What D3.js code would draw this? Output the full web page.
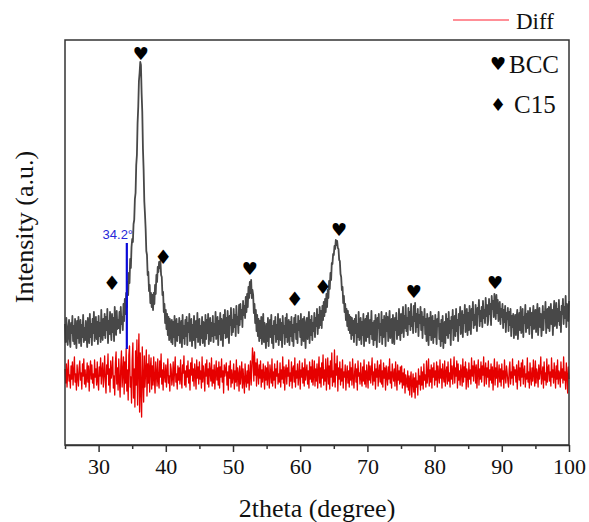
<!DOCTYPE html>
<html>
<head>
<meta charset="utf-8">
<script src="https://cdn.jsdelivr.net/npm/d3@7"></script>
<style>
  body { margin: 0; background: #fff; }
  text { font-family: "Liberation Serif", "Times New Roman", serif; }
</style>
</head>
<body>
<div id="chart-area"></div>
<script>
// XRD pattern, 2theta 25..100 with 0.1 degree step (one row = 1 degree)
var start = 25, step = 0.1;

var xrd = [
  121,103,127,109,100,118,125,106,98,122,
  112,129,104,119,101,126,110,97,124,107,
  128,102,116,125,99,120,108,130,103,117,
  105,124,111,98,127,115,102,131,108,121,
  100,126,112,133,104,119,128,106,123,101,
  129,109,122,103,135,114,105,126,110,131,
  107,128,115,136,102,124,111,133,118,105,
  131,113,127,104,138,119,110,134,116,125,
  117,133,112,138,121,128,115,141,124,146,
  131,152,138,163,150,172,162,186,177,198,
  206,203,221,225,246,252,280,290,322,338,
  364,372,383,380,352,333,296,275,244,231,
  216,194,190,170,173,154,160,142,152,138,
  150,135,152,141,160,151,170,163,178,173,
  183,177,184,170,168,150,153,133,141,122,
  135,116,131,110,128,105,126,119,103,125,
  101,123,108,129,99,117,126,104,121,110,
  127,102,115,124,98,130,107,119,101,125,
  109,128,100,122,113,131,104,118,126,99,
  120,105,129,111,97,124,108,132,103,117,
  126,100,119,107,128,102,123,114,99,130,
  106,125,112,131,101,118,127,104,122,109,
  129,103,121,110,133,106,116,128,100,124,
  111,132,105,126,118,99,130,112,135,107,
  127,108,134,115,102,129,120,137,110,125,
  113,136,118,130,109,139,121,128,112,140,
  120,141,126,135,118,144,130,139,127,148,
  133,151,138,158,147,163,152,165,147,155,
  150,132,141,122,135,114,130,109,126,104,
  124,107,128,101,119,131,103,122,110,97,
  121,104,127,99,116,125,108,130,102,119,
  97,124,111,128,103,120,106,131,100,117,
  126,105,122,98,129,112,119,101,127,108,
  131,103,118,125,100,123,109,128,104,120,
  99,127,113,130,106,121,102,129,115,124,
  108,131,100,119,126,104,128,111,97,123,
  127,106,120,133,102,125,110,129,105,122,
  114,132,108,127,119,136,111,130,117,138,
  120,134,117,139,125,143,129,146,133,151,
  138,155,147,164,156,172,165,182,181,191,
  190,199,196,205,200,204,197,196,185,184,
  171,168,155,158,142,149,133,141,125,136,
  119,134,115,130,112,128,106,127,110,124,
  103,126,112,130,100,121,108,133,105,118,
  127,101,123,110,131,99,120,126,104,129,
  108,132,115,102,125,111,134,106,122,100,
  124,105,130,113,98,127,117,131,103,121,
  110,133,101,125,108,129,120,99,132,114,
  128,104,122,134,107,119,126,102,130,111,
  101,127,115,132,106,124,110,136,117,105,
  131,112,126,138,108,129,117,140,114,127,
  110,137,121,133,115,141,119,128,112,139,
  124,142,113,131,118,136,109,130,122,138,
  115,133,107,128,120,136,111,126,104,131,
  118,100,127,110,133,105,122,129,102,124,
  108,130,114,101,126,119,133,106,121,99,
  125,104,129,97,116,123,102,131,110,126,
  107,133,112,124,100,128,117,135,105,122,
  129,109,136,114,125,104,131,120,138,111,
  117,134,108,130,122,140,113,127,136,110,
  132,115,139,121,111,136,125,143,117,130,
  120,140,126,114,137,131,145,119,134,124,
  138,118,144,127,135,122,147,129,140,120,
  125,146,131,141,120,149,136,144,128,151,
  140,126,150,132,145,124,138,143,121,136,
  128,141,117,135,123,139,113,132,126,137,
  114,133,120,136,109,129,118,131,107,124,
  130,110,127,135,106,121,132,115,138,112,
  119,136,108,128,122,140,113,131,117,134,
  127,111,137,120,132,107,129,139,116,126,
  135,113,128,141,110,124,137,118,131,109,
  122,139,115,133,127,143,112,130,136,117,
  138,114,129,141,121,135,110,132,144,119,
  126,142,117,136,124,145,120,133,113,139,
  131,146,121,138,127,149,118,141,135,124,
  144
];

var diff = [
  76,62,81,58,73,85,64,70,57,79,
  66,83,60,74,88,63,71,55,80,68,
  59,77,84,65,72,56,81,69,86,61,
  75,58,67,82,63,79,54,73,84,66,
  80,62,71,57,85,68,76,60,83,64,
  55,78,69,87,61,74,82,58,70,89,
  64,52,80,71,91,60,76,53,84,67,
  73,88,57,69,50,82,93,61,77,55,
  86,65,48,79,94,58,72,88,51,83,
  62,96,54,75,45,90,99,58,68,42,
  85,102,47,76,38,94,60,105,40,81,
  111,33,92,54,28,98,66,43,89,58,
  74,95,49,81,62,90,53,77,87,56,
  79,60,88,66,52,83,71,59,86,64,
  57,84,68,91,61,75,55,82,70,63,
  80,58,73,86,62,69,54,81,76,60,
  67,83,59,74,88,63,71,56,79,65,
  77,61,85,66,57,80,72,89,60,74,
  58,79,68,84,62,75,55,82,70,87,
  64,76,59,81,72,56,85,67,78,61,
  83,66,74,57,88,63,79,70,54,81,
  69,85,61,76,58,82,73,64,87,59,
  75,62,80,56,71,84,65,77,60,83,
  57,78,68,86,63,74,52,80,69,76,
  82,60,73,55,79,67,84,58,75,62,
  68,81,56,74,63,85,59,77,71,54,
  79,61,70,83,57,76,64,52,81,66,
  58,74,62,80,55,69,84,60,76,97,
  88,64,93,70,82,59,86,73,61,80,
  67,84,58,75,63,81,70,56,79,65,
  77,60,83,68,57,80,72,62,86,59,
  73,65,81,57,76,69,84,61,71,63,
  82,58,75,66,88,62,78,55,74,80,
  61,77,69,85,59,72,64,83,57,76,
  79,63,87,58,74,67,81,60,70,84,
  56,75,68,82,62,77,59,86,65,73,
  80,61,74,57,83,66,78,63,85,60,
  70,84,59,76,64,81,57,73,88,62,
  77,58,82,67,90,60,75,64,86,55,
  72,87,61,79,56,84,68,92,59,74,
  63,95,58,81,70,89,54,77,66,83,
  60,76,64,85,57,73,68,80,55,71,
  79,62,74,58,83,65,77,60,86,68,
  57,73,81,63,76,55,84,69,72,61,
  82,66,59,78,64,85,61,74,58,80,
  70,57,83,65,79,62,75,87,60,73,
  64,81,56,76,68,84,59,72,80,63,
  85,61,74,58,82,67,77,55,79,69,
  60,78,66,86,62,73,57,81,70,64,
  76,59,83,68,55,80,65,74,61,78,
  63,79,57,72,60,76,52,70,64,58,
  74,55,69,50,66,73,48,62,71,53,
  67,47,72,58,64,50,76,61,69,55,
  78,60,73,56,81,65,70,58,84,62,
  71,86,59,75,63,80,57,77,68,82,
  60,74,65,83,58,79,70,62,85,67,
  76,57,81,69,63,84,59,73,78,61,
  83,64,72,58,86,66,79,61,75,88,
  62,77,69,84,57,81,65,74,60,80,
  73,59,86,63,78,68,83,56,76,71,
  58,82,66,75,61,87,69,79,64,84,
  77,62,80,57,73,85,60,76,66,83,
  63,79,70,88,59,74,82,61,77,68,
  84,58,75,65,81,62,78,55,73,86,
  60,77,67,83,58,71,80,63,76,59,
  81,66,74,57,85,69,62,79,72,64,
  58,76,83,61,73,67,86,60,78,70,
  75,63,80,56,72,84,65,77,59,82,
  68,85,61,74,79,58,71,66,87,63,
  73,57,82,69,60,77,64,85,70,59,
  84,62,76,71,58,80,66,74,88,61,
  69,78,57,83,65,72,60,86,63,77,
  80,64,73,59,87,68,75,62,82,70,
  57,79,66,85,61,74,71,58,83,67,
  76,62,88,65,73,56,82,69,52,78,
  66
];

// phase markers (position, height)
var bccX = [36.3, 52.5, 65.8, 76.9, 89.0];
var bccY = [392, 177, 216, 154, 163];
var c15X = [32.0, 39.6, 59.2, 63.4];
var c15Y = [162, 188, 146, 158];

// marked shoulder
var markX = 34.2, markY0 = 96, markY1 = 202;

var xTicks = [25, 30, 35, 40, 45, 50, 55, 60, 65, 70, 75, 80, 85, 90, 95, 100];

var margin = { left: 65, right: 20, top: 40, bottom: 77 };
var W = 589, H = 522;
var width = W - margin.left - margin.right,
    height = H - margin.top - margin.bottom;

var svg = d3.select("#chart-area")
  .append("svg")
    .attr("width", W)
    .attr("height", H);

var g = svg.append("g")
    .attr("transform", "translate(" + margin.left + "," + margin.top + ")");

var x = d3.scaleLinear().domain([25, 100]).range([0, width]);
var y = d3.scaleLinear().domain([0, 405]).range([height, 0]);

var line = d3.line()
    .x(function(d, i) { return x(start + i * step); })
    .y(function(d) { return y(d); });

g.append("path")
    .datum(xrd)
    .attr("fill", "none")
    .attr("stroke", "#484848")
    .attr("stroke-width", 1.8)
    .attr("stroke-linejoin", "round")
    .attr("d", line);

g.append("path")
    .datum(diff)
    .attr("fill", "none")
    .attr("stroke", "#e60000")
    .attr("stroke-width", 1.3)
    .attr("stroke-linejoin", "round")
    .attr("d", line);

// 34.2 marker
g.append("line")
    .attr("x1", x(markX)).attr("x2", x(markX))
    .attr("y1", y(markY0)).attr("y2", y(markY1))
    .attr("stroke", "#0a0ad8")
    .attr("stroke-width", 2.2);

g.append("text")
    .attr("x", x(markX) - 9)
    .attr("y", y(markY1) - 4)
    .attr("text-anchor", "middle")
    .style("font-family", "'Liberation Sans', Arial, sans-serif")
    .attr("font-size", "13px")
    .attr("fill", "#2727d8")
    .text("34.2°");

// phase symbols
g.selectAll(".bcc")
  .data(bccX)
  .enter().append("text")
    .attr("class", "bcc")
    .attr("x", function(d) { return x(d); })
    .attr("y", function(d, i) { return y(bccY[i]); })
    .attr("text-anchor", "middle")
    .attr("dominant-baseline", "central")
    .style("font-family", "'DejaVu Sans', sans-serif")
    .attr("font-size", "18px")
    .text("\u2665");

g.selectAll(".c15")
  .data(c15X)
  .enter().append("text")
    .attr("class", "c15")
    .attr("x", function(d) { return x(d); })
    .attr("y", function(d, i) { return y(c15Y[i]); })
    .attr("text-anchor", "middle")
    .attr("dominant-baseline", "central")
    .style("font-family", "'DejaVu Sans', sans-serif")
    .attr("font-size", "20px")
    .text("\u2666");

// frame
g.append("rect")
    .attr("width", width)
    .attr("height", height)
    .attr("fill", "none")
    .attr("stroke", "#333")
    .attr("stroke-width", 1.5);

// X axis
var xAxis = g.append("g")
    .attr("transform", "translate(0," + height + ")")
    .call(d3.axisBottom(x)
      .tickValues(xTicks)
      .tickSizeOuter(0)
      .tickFormat(function(d) { return d % 10 === 0 ? d : ""; }));

xAxis.select(".domain").attr("stroke", "#333").attr("stroke-width", 1.5);
xAxis.selectAll(".tick line")
    .attr("stroke", "#333")
    .attr("stroke-width", 1.5)
    .attr("y2", function(d) { return d % 10 === 0 ? 7 : 4; });
xAxis.selectAll(".tick text")
    .attr("y", 13)
    .attr("font-size", "22px")
    .attr("fill", "#111")
    .style("font-family", "'Liberation Serif', serif");

g.append("text")
    .attr("x", width / 2)
    .attr("y", height + 72)
    .attr("text-anchor", "middle")
    .attr("font-size", "26px")
    .attr("fill", "#111")
    .text("2theta (degree)");

g.append("text")
    .attr("transform", "rotate(-90)")
    .attr("x", -187)
    .attr("y", -32)
    .attr("text-anchor", "middle")
    .attr("font-size", "26px")
    .attr("fill", "#111")
    .text("Intensity (a.u.)");

// Diff legend
svg.append("line")
    .attr("x1", 453).attr("x2", 509)
    .attr("y1", 20).attr("y2", 20)
    .attr("stroke", "#ff2030")
    .attr("stroke-width", 1.2);
svg.append("text")
    .attr("x", 516)
    .attr("y", 29)
    .attr("font-size", "23px")
    .attr("fill", "#111")
    .text("Diff");

// phase legend
var legend = svg.append("g");
legend.append("text")
    .attr("x", 498).attr("y", 63)
    .attr("text-anchor", "middle")
    .attr("dominant-baseline", "central")
    .style("font-family", "'DejaVu Sans', sans-serif")
    .attr("font-size", "18px")
    .text("\u2665");
legend.append("text")
    .attr("x", 509).attr("y", 73)
    .attr("font-size", "25px")
    .attr("fill", "#111")
    .text("BCC");
legend.append("text")
    .attr("x", 498).attr("y", 104)
    .attr("text-anchor", "middle")
    .attr("dominant-baseline", "central")
    .style("font-family", "'DejaVu Sans', sans-serif")
    .attr("font-size", "18px")
    .text("\u2666");
legend.append("text")
    .attr("x", 514).attr("y", 113)
    .attr("font-size", "25px")
    .attr("fill", "#111")
    .text("C15");
</script>
</body>
</html>
